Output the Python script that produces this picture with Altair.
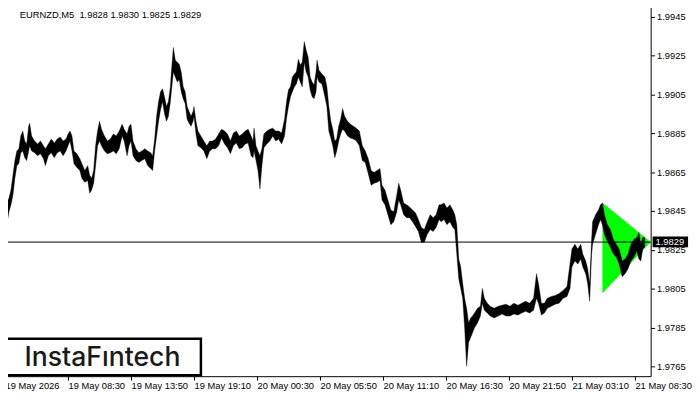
import altair as alt
import pandas as pd

# ---- data (bar index, high/low envelope of the M5 bars) ----
bar_idx = [0, 2, 4, 6, 8, 10, 12, 14, 16, 18, 20, 22, 24, 25, 27, 30, 33, 36, 39, 41,
           44, 47, 50, 53, 56, 59, 62, 64, 66, 68, 70, 73, 76, 78, 81, 84, 86, 88, 90, 92,
           94, 96, 98, 101, 104, 107, 110, 113, 116, 119, 121, 124, 126, 128, 130, 133, 136, 139, 142, 145,
           148, 150, 152, 154, 156, 158, 160, 162, 164, 166, 168, 169, 171, 173, 175, 177, 179, 181, 183, 185,
           187, 189, 191, 192, 194, 196, 199, 202, 205, 208, 211, 214, 217, 220, 223, 226, 229, 232, 235, 238,
           241, 244, 247, 250, 252, 253, 255, 257, 259, 261, 263, 266, 269, 272, 275, 278, 281, 284, 286, 288,
           290, 292, 294, 296, 298, 300, 302, 304, 306, 308, 310, 312, 314, 316, 317, 319, 322, 325, 327, 329,
           331, 333, 335, 337, 339, 341, 343, 345, 348, 351, 354, 357, 360, 363, 366, 369, 372, 375, 378, 381,
           383, 386, 389, 392, 395, 398, 400, 402, 405, 408, 411, 414, 417, 420, 423, 426, 429, 432, 435, 438,
           441, 443, 446, 449, 452, 455, 457, 459, 461, 463, 465, 467, 469, 471, 473, 475, 477, 480, 483, 485,
           487, 490, 493, 497, 501, 505, 509, 513, 517, 521, 525, 529, 533, 537, 540, 542, 545, 548, 551, 555,
           559, 563, 567, 571, 574, 576, 579, 582, 585, 587, 590, 592, 594, 596, 597, 600, 603, 605, 607, 609,
           612, 615, 618, 621, 624, 627, 630, 633, 636, 639, 642, 644, 646, 648, 650]
bar_high = [1.98507, 1.98492, 1.98517, 1.98558, 1.98634, 1.98710, 1.98760, 1.98771, 1.98837, 1.98862,
            1.98811, 1.98796, 1.98887, 1.98902, 1.98837, 1.98811, 1.98796, 1.98811, 1.98786, 1.98771,
            1.98796, 1.98821, 1.98801, 1.98821, 1.98831, 1.98811, 1.98821, 1.98847, 1.98862, 1.98837,
            1.98760, 1.98745, 1.98720, 1.98695, 1.98659, 1.98684, 1.98634, 1.98619, 1.98659, 1.98786,
            1.98862, 1.98913, 1.98872, 1.98837, 1.98811, 1.98821, 1.98847, 1.98837, 1.98862, 1.98897,
            1.98872, 1.98847, 1.98887, 1.98897, 1.98811, 1.98771, 1.98750, 1.98760, 1.98771, 1.98760,
            1.98750, 1.98735, 1.98821, 1.98938, 1.99014, 1.99065, 1.99080, 1.99039, 1.98989, 1.99014,
            1.99090, 1.99166, 1.99293, 1.99227, 1.99217, 1.99207, 1.99166, 1.99090, 1.99065, 1.98989,
            1.98963, 1.98938, 1.98963, 1.98989, 1.98913, 1.98862, 1.98837, 1.98811, 1.98786, 1.98811,
            1.98811, 1.98821, 1.98847, 1.98872, 1.98862, 1.98847, 1.98811, 1.98852, 1.98862, 1.98837,
            1.98847, 1.98862, 1.98872, 1.98837, 1.98811, 1.98877, 1.98786, 1.98760, 1.98735, 1.98771,
            1.98847, 1.98862, 1.98872, 1.98877, 1.98862, 1.98862, 1.98852, 1.98923, 1.99014, 1.99075,
            1.99090, 1.99141, 1.99156, 1.99166, 1.99232, 1.99202, 1.99217, 1.99323, 1.99278, 1.99242,
            1.99141, 1.99115, 1.99100, 1.99166, 1.99227, 1.99176, 1.99156, 1.99141, 1.99090, 1.98989,
            1.98913, 1.98872, 1.98811, 1.98821, 1.98887, 1.98923, 1.98978, 1.98938, 1.98913, 1.98897,
            1.98887, 1.98877, 1.98862, 1.98786, 1.98760, 1.98720, 1.98659, 1.98649, 1.98659, 1.98669,
            1.98583, 1.98558, 1.98507, 1.98456, 1.98446, 1.98532, 1.98593, 1.98558, 1.98492, 1.98482,
            1.98471, 1.98456, 1.98441, 1.98406, 1.98365, 1.98355, 1.98395, 1.98431, 1.98416, 1.98431,
            1.98482, 1.98482, 1.98492, 1.98466, 1.98482, 1.98456, 1.98431, 1.98380, 1.98203, 1.98162,
            1.98076, 1.98000, 1.97949, 1.97873, 1.97899, 1.97909, 1.97924, 1.97949, 1.97959, 1.98051,
            1.98000, 1.97975, 1.97959, 1.97949, 1.97959, 1.97965, 1.97970, 1.97959, 1.97975, 1.97965,
            1.97975, 1.97985, 1.97975, 1.98000, 1.98127, 1.98076, 1.97975, 1.97975, 1.98000, 1.98010,
            1.98015, 1.98025, 1.98041, 1.98061, 1.98177, 1.98254, 1.98279, 1.98254, 1.98279, 1.98228,
            1.98193, 1.98152, 1.98076, 1.98304, 1.98395, 1.98431, 1.98456, 1.98482, 1.98492, 1.98431,
            1.98380, 1.98355, 1.98304, 1.98279, 1.98254, 1.98193, 1.98203, 1.98228, 1.98279, 1.98304,
            1.98314, 1.98340, 1.98279, 1.98314, 1.98314]
bar_low = [1.98431, 1.98390, 1.98446, 1.98482, 1.98532, 1.98619, 1.98684, 1.98695, 1.98750, 1.98760,
           1.98725, 1.98710, 1.98760, 1.98786, 1.98760, 1.98750, 1.98735, 1.98745, 1.98720, 1.98684,
           1.98735, 1.98750, 1.98725, 1.98750, 1.98760, 1.98735, 1.98760, 1.98786, 1.98811, 1.98760,
           1.98695, 1.98674, 1.98659, 1.98619, 1.98598, 1.98608, 1.98542, 1.98558, 1.98593, 1.98684,
           1.98786, 1.98811, 1.98786, 1.98760, 1.98745, 1.98750, 1.98760, 1.98745, 1.98771, 1.98837,
           1.98811, 1.98735, 1.98786, 1.98811, 1.98735, 1.98710, 1.98700, 1.98710, 1.98720, 1.98684,
           1.98669, 1.98659, 1.98760, 1.98837, 1.98913, 1.98973, 1.99014, 1.98953, 1.98913, 1.98938,
           1.99014, 1.99065, 1.99166, 1.99141, 1.99115, 1.99126, 1.99065, 1.99029, 1.99004, 1.98923,
           1.98902, 1.98887, 1.98913, 1.98938, 1.98847, 1.98786, 1.98776, 1.98760, 1.98720, 1.98760,
           1.98771, 1.98771, 1.98786, 1.98826, 1.98796, 1.98776, 1.98745, 1.98786, 1.98801, 1.98771,
           1.98776, 1.98796, 1.98801, 1.98735, 1.98725, 1.98760, 1.98710, 1.98659, 1.98563, 1.98684,
           1.98776, 1.98796, 1.98811, 1.98837, 1.98811, 1.98821, 1.98796, 1.98837, 1.98928, 1.98989,
           1.99039, 1.99065, 1.99090, 1.99105, 1.99141, 1.99115, 1.99090, 1.99217, 1.99166, 1.99141,
           1.99075, 1.99039, 1.99029, 1.99065, 1.99141, 1.99115, 1.99105, 1.99039, 1.98989, 1.98862,
           1.98826, 1.98786, 1.98725, 1.98760, 1.98811, 1.98847, 1.98872, 1.98862, 1.98837, 1.98826,
           1.98821, 1.98811, 1.98786, 1.98710, 1.98700, 1.98644, 1.98583, 1.98593, 1.98598, 1.98608,
           1.98507, 1.98482, 1.98431, 1.98380, 1.98395, 1.98446, 1.98507, 1.98482, 1.98431, 1.98416,
           1.98416, 1.98395, 1.98370, 1.98345, 1.98289, 1.98289, 1.98330, 1.98355, 1.98345, 1.98365,
           1.98406, 1.98395, 1.98406, 1.98380, 1.98395, 1.98365, 1.98355, 1.98228, 1.98101, 1.98051,
           1.98000, 1.97848, 1.97650, 1.97772, 1.97797, 1.97823, 1.97848, 1.97873, 1.97909, 1.97975,
           1.97939, 1.97924, 1.97909, 1.97899, 1.97909, 1.97919, 1.97909, 1.97909, 1.97919, 1.97914,
           1.97924, 1.97934, 1.97924, 1.97939, 1.98000, 1.97975, 1.97914, 1.97924, 1.97949, 1.97959,
           1.97970, 1.97975, 1.98000, 1.98010, 1.98051, 1.98162, 1.98193, 1.98177, 1.98203, 1.98162,
           1.98127, 1.98076, 1.97985, 1.98228, 1.98279, 1.98330, 1.98380, 1.98406, 1.98380, 1.98330,
           1.98294, 1.98264, 1.98228, 1.98213, 1.98177, 1.98112, 1.98127, 1.98152, 1.98193, 1.98213,
           1.98243, 1.98203, 1.98193, 1.98254, 1.98264]

# pennant (triangle) pattern
tri_idx = [607, 656]
tri_top = [1.98493, 1.98290]
tri_bot = [1.98027, 1.98290]

current_price = 1.9829
price_ticks = [1.9765, 1.9785, 1.9805, 1.9825, 1.9845, 1.9865, 1.9885, 1.9905, 1.9925, 1.9945]
time_ticks = [0, 64, 128, 192, 256, 320, 384, 448, 512, 576, 640]
time_labels = ["19 May 2026", "19 May 08:30", "19 May 13:50", "19 May 19:10", "20 May 00:30",
               "20 May 05:50", "20 May 11:10", "20 May 16:30", "20 May 21:50", "21 May 03:10",
               "21 May 08:30"]
header_text = "EURNZD,M5\u00a0\u00a01.9828 1.9830 1.9825 1.9829"
logo_text = "InstaF\u0131ntech"

FONT = "Liberation Sans"
FS = 9.5

bars = pd.DataFrame({"i": bar_idx, "hi": bar_high, "lo": bar_low})
tri = pd.DataFrame({"i": tri_idx, "top": tri_top, "bot": tri_bot})

xscale = alt.Scale(domain=[0, 656], nice=False, zero=False)
yscale = alt.Scale(domain=[1.97599, 1.99511], nice=False, zero=False)

label_expr = "[" + ",".join("'%s'" % s for s in time_labels) + "][round(datum.value/64)]"

xaxis = alt.Axis(values=time_ticks, labelExpr=label_expr, title="", grid=False, domain=False,
                 tickSize=4, tickColor="black", labelAlign="left", labelBaseline="top",
                 labelPadding=1, labelFlush=False, labelOverlap=False, labelBound=False,
                 labelFont=FONT, labelFontSize=FS, labelColor="black")
yaxis = alt.Axis(orient="right", values=price_ticks, format=".4f", title="", grid=False,
                 domain=False, tickSize=4, tickColor="black", labelPadding=2,
                 labelFont=FONT, labelFontSize=FS, labelColor="black", labelOverlap=False,
                 labelFlush=False, labelBound=False)

triangle = alt.Chart(tri).mark_area(color="#00ff00", opacity=1).encode(
    x=alt.X("i:Q", scale=xscale, axis=xaxis),
    y=alt.Y("top:Q", scale=yscale, axis=yaxis),
    y2="bot:Q",
)

price = alt.Chart(bars).mark_area(color="black", opacity=1, stroke="black", strokeWidth=0.4).encode(
    x=alt.X("i:Q", scale=xscale),
    y=alt.Y("hi:Q", scale=yscale, title=""),
    y2="lo:Q",
)

hline = alt.Chart().mark_rule(color="black", strokeWidth=1).encode(
    y=alt.datum(current_price, scale=yscale)
)

price_box = alt.Chart().mark_rect(color="black").encode(
    x=alt.value(658), x2=alt.value(694),
    y=alt.datum(1.98319), y2=alt.datum(1.98264),
)
price_label = alt.Chart().mark_text(color="white", font=FONT, fontSize=FS, align="left",
                                    baseline="middle").encode(
    x=alt.value(661), y=alt.datum(current_price), text=alt.value("%.4f" % current_price)
)

header = alt.Chart().mark_text(color="black", font=FONT, fontSize=FS, align="left",
                               baseline="alphabetic").encode(
    x=alt.value(15), y=alt.value(13), text=alt.value(header_text)
)

logo_box = alt.Chart().mark_rect(fill="white", stroke="black", strokeWidth=2.5).encode(
    x=alt.value(0), x2=alt.value(199), y=alt.value(339), y2=alt.value(376)
)
logo = alt.Chart().mark_text(color="#1a1a1a", font="Inter", fontSize=27, fontWeight=500,
                             align="center", baseline="alphabetic").encode(
    x=alt.value(99), y=alt.value(367), text=alt.value(logo_text)
)

chart = alt.layer(triangle, price, hline, price_box, price_label, header, logo_box, logo).properties(
    width=656, height=377,
    padding={"left": -5, "top": -6, "right": 0, "bottom": 0},
    background="white",
).configure_view(stroke="black", strokeWidth=1)

chart.save("out.html", embed_options={"renderer": "svg", "actions": False})
